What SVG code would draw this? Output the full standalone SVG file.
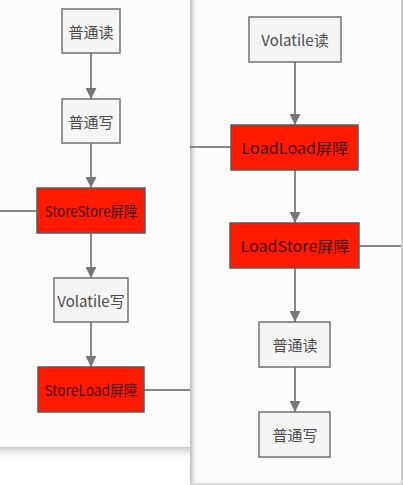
<svg xmlns="http://www.w3.org/2000/svg" width="403" height="485" viewBox="0 0 403 485">
  <style>
    .panel { fill: #fbfcfb; }
    .node rect { fill: #f5f5f5; stroke: #707070; stroke-width: 1.5; }
    .node text { fill: #4a4a4a; font-family: "Noto Sans CJK SC", "Noto Sans", sans-serif; font-size: 15px; text-anchor: middle; dominant-baseline: central; }
    .node.barrier rect { fill: #ff1a00; stroke: #5a5a5a; }
    .node.barrier text { fill: #4a0a05; }
    .edge { stroke: #888888; stroke-width: 2; fill: none; }
  </style>
  <defs>
    <marker id="arrow" viewBox="0 0 10 10" refX="10" refY="5" markerWidth="5.5" markerHeight="5.5" orient="auto" markerUnits="strokeWidth">
      <path d="M0,0 L10,5 L0,10 z" fill="#777777"/>
    </marker>
    <linearGradient id="sideShade" x1="0" y1="0" x2="1" y2="0">
      <stop offset="0" stop-color="#b8b8b8"/>
      <stop offset="1" stop-color="#fbfcfb" stop-opacity="0"/>
    </linearGradient>
    <linearGradient id="bottomShade" x1="0" y1="0" x2="0" y2="1">
      <stop offset="0" stop-color="#c8c8c8"/>
      <stop offset="1" stop-color="#ffffff" stop-opacity="0"/>
    </linearGradient>
  </defs>

  <!-- page background and the two sheets -->
  <rect x="0" y="0" width="403" height="485" fill="#ffffff"/>
  <rect x="0" y="447" width="190" height="14" fill="url(#bottomShade)"/>
  <rect class="panel" x="0" y="0" width="190" height="447"/>
  <rect x="401" y="0" width="2" height="485" fill="#cfcfcf"/>
  <rect class="panel" x="190" y="0" width="211" height="483"/>
  <rect x="190" y="483" width="211" height="2" fill="#d8d8d8"/>
  <rect x="190" y="0" width="8" height="483" fill="url(#sideShade)"/>

  <g id="connectors">
    <line class="edge" x1="91" y1="53" x2="91" y2="99" marker-end="url(#arrow)"/>
    <line class="edge" x1="91" y1="143" x2="91" y2="188" marker-end="url(#arrow)"/>
    <line class="edge" x1="91" y1="233" x2="91" y2="278" marker-end="url(#arrow)"/>
    <line class="edge" x1="91" y1="322" x2="91" y2="367" marker-end="url(#arrow)"/>
    <line class="edge" x1="0" y1="211" x2="37" y2="211"/>
    <line class="edge" x1="144" y1="390" x2="190" y2="390"/>
    <line class="edge" x1="295" y1="62" x2="295" y2="125" marker-end="url(#arrow)"/>
    <line class="edge" x1="295" y1="170" x2="295" y2="223" marker-end="url(#arrow)"/>
    <line class="edge" x1="295" y1="268" x2="295" y2="322" marker-end="url(#arrow)"/>
    <line class="edge" x1="295" y1="367" x2="295" y2="412" marker-end="url(#arrow)"/>
    <line class="edge" x1="190" y1="147" x2="231" y2="147"/>
    <line class="edge" x1="359" y1="246" x2="401" y2="246"/>
  </g>

  <!-- left column -->
  <g id="l-read" class="node">
    <rect x="62" y="9" width="58" height="44"/>
    <text x="91" y="31">普通读</text>
  </g>
  <g id="l-write" class="node">
    <rect x="62" y="99" width="58" height="44"/>
    <text x="91" y="121">普通写</text>
  </g>
  <g id="storestore" class="node barrier">
    <rect x="37" y="188" width="108" height="45"/>
    <text x="91" y="210.5" textLength="93" lengthAdjust="spacingAndGlyphs">StoreStore屏障</text>
  </g>
  <g id="volatile-write" class="node">
    <rect x="54" y="278" width="74" height="44"/>
    <text x="91" y="300">Volatile写</text>
  </g>
  <g id="storeload" class="node barrier">
    <rect x="38" y="367" width="106" height="45"/>
    <text x="91" y="389.5" textLength="93" lengthAdjust="spacingAndGlyphs">StoreLoad屏障</text>
  </g>

  <!-- right column -->
  <g id="volatile-read" class="node">
    <rect x="249" y="17" width="92" height="45"/>
    <text x="295" y="39.5">Volatile读</text>
  </g>
  <g id="loadload" class="node barrier">
    <rect x="231" y="125" width="127" height="45"/>
    <text x="295" y="147.5" textLength="107" lengthAdjust="spacingAndGlyphs">LoadLoad屏障</text>
  </g>
  <g id="loadstore" class="node barrier">
    <rect x="230" y="223" width="129" height="45"/>
    <text x="295" y="245.5" textLength="109" lengthAdjust="spacingAndGlyphs">LoadStore屏障</text>
  </g>
  <g id="r-read" class="node">
    <rect x="259" y="322" width="71" height="45"/>
    <text x="295" y="344.5">普通读</text>
  </g>
  <g id="r-write" class="node">
    <rect x="259" y="412" width="71" height="45"/>
    <text x="295" y="434.5">普通写</text>
  </g>
</svg>
